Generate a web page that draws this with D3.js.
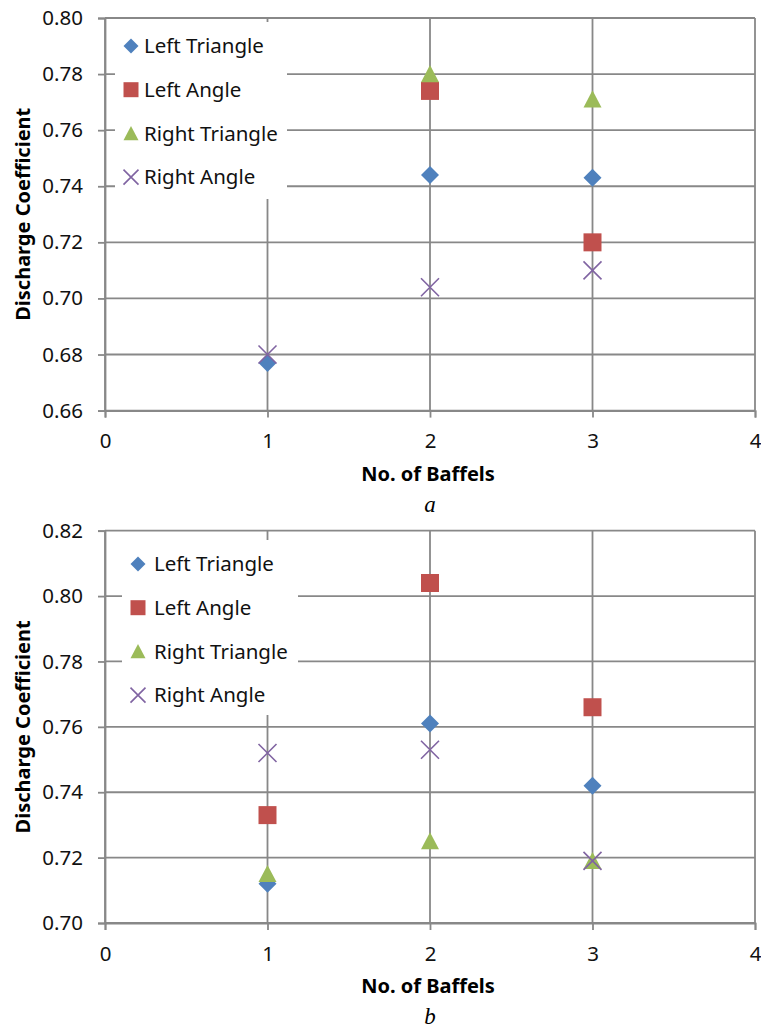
<!DOCTYPE html>
<html lang="en">
<head>
    <meta charset="UTF-8">
    <title>Discharge Coefficient vs No. of Baffels</title>
    <script src="https://d3js.org/d3.v7.min.js"></script>
    <style>
        body { margin: 0; background: #fff; }
        text { font-family: "Noto Sans", "Open Sans", sans-serif; }
    </style>
</head>
<body>
    <svg class="chart"></svg>

    <script>
        // data
        const baffles = [1, 2, 3];
        const seriesNames = ['Left Triangle', 'Left Angle', 'Right Triangle', 'Right Angle'];
        const seriesColors = ['#4F81BD', '#C0504D', '#9BBB59', '#8064A2'];
        const seriesShapes = ['diamond', 'square', 'triangle', 'cross'];

        // chart a
        const aLeftTriangle = [0.677, 0.744, 0.743];
        const aLeftAngle = [null, 0.774, 0.720];
        const aRightTriangle = [null, 0.780, 0.771];
        const aRightAngle = [0.680, 0.704, 0.710];
        const aYTicks = [0.66, 0.68, 0.70, 0.72, 0.74, 0.76, 0.78, 0.80];

        // chart b
        const bLeftTriangle = [0.712, 0.761, 0.742];
        const bLeftAngle = [0.733, 0.804, 0.766];
        const bRightTriangle = [0.715, 0.725, 0.719];
        const bRightAngle = [0.752, 0.753, 0.719];
        const bYTicks = [0.70, 0.72, 0.74, 0.76, 0.78, 0.80, 0.82];

        const xTicks = [0, 1, 2, 3, 4];
        const xTitle = 'No. of Baffels';
        const yTitle = 'Discharge Coefficient';

        const grid = '#888888';

        const svg = d3.select('.chart')
            .attr('width', 761)
            .attr('height', 1032);

        // marker paths (s = full width)
        function markerPath(shape, s) {
            const h = s / 2;
            if (shape === 'diamond') return `M0,${-h}L${h},0L0,${h}L${-h},0Z`;
            if (shape === 'square') return `M${-h},${-h}H${h}V${h}H${-h}Z`;
            if (shape === 'triangle') return `M0,${-h}L${h},${h * 0.9}L${-h},${h * 0.9}Z`;
            return `M${-h},${-h}L${h},${h}M${h},${-h}L${-h},${h}`;
        }

        function drawMarker(g, shape, color, x, y, s) {
            const p = g.append('path')
                .attr('transform', `translate(${x},${y})`)
                .attr('d', markerPath(shape, s));
            if (shape === 'cross') {
                p.attr('fill', 'none').attr('stroke', color).attr('stroke-width', 1.6);
            } else {
                p.attr('fill', color);
            }
        }

        function drawChart(cfg) {
            const g = svg.append('g');

            const x = d3.scaleLinear().domain([0, 4]).range([105, 755]);
            const y = d3.scaleLinear()
                .domain([cfg.yTicks[0], cfg.yTicks[cfg.yTicks.length - 1]])
                .range([cfg.bottom, cfg.top]);

            // horizontal gridlines
            g.selectAll('.hgrid')
                .data(cfg.yTicks)
                .enter()
                .append('line')
                .attr('x1', x(0)).attr('x2', x(4))
                .attr('y1', d => y(d)).attr('y2', d => y(d))
                .attr('stroke', grid).attr('stroke-width', 1.8);

            // vertical gridlines
            g.selectAll('.vgrid')
                .data(xTicks)
                .enter()
                .append('line')
                .attr('x1', d => x(d)).attr('x2', d => x(d))
                .attr('y1', cfg.top).attr('y2', cfg.bottom)
                .attr('stroke', grid).attr('stroke-width', 1.8);

            // y axis
            const yAxis = g.append('g')
                .attr('transform', `translate(${x(0)},0)`)
                .call(d3.axisLeft(y).tickValues(cfg.yTicks).tickSize(7).tickPadding(15)
                    .tickFormat(d3.format('.2f')));
            yAxis.select('.domain').attr('stroke', grid).attr('stroke-width', 1.8);
            yAxis.selectAll('.tick line').attr('stroke', grid).attr('stroke-width', 1.8);
            yAxis.selectAll('.tick text')
                .attr('fill', '#111')
                .style('font-size', '20.5px')
                .style('font-family', '"Noto Sans", sans-serif');

            // x axis
            const xAxis = g.append('g')
                .attr('transform', `translate(0,${cfg.bottom})`)
                .call(d3.axisBottom(x).tickValues(xTicks).tickSize(7).tickPadding(16)
                    .tickFormat(d3.format('d')));
            xAxis.select('.domain').attr('stroke', grid).attr('stroke-width', 1.8);
            xAxis.selectAll('.tick line').attr('stroke', grid).attr('stroke-width', 1.8);
            xAxis.selectAll('.tick text')
                .attr('fill', '#111')
                .style('font-size', '20.5px')
                .style('font-family', '"Noto Sans", sans-serif');

            // axis titles
            g.append('text')
                .attr('x', 428)
                .attr('y', cfg.bottom + 70)
                .attr('text-anchor', 'middle')
                .style('font-size', '20px')
                .style('font-weight', 'bold')
                .text(xTitle);

            g.append('text')
                .attr('transform', `translate(30,${(cfg.top + cfg.bottom) / 2}) rotate(-90)`)
                .attr('text-anchor', 'middle')
                .style('font-size', '20px')
                .style('font-weight', 'bold')
                .text(yTitle);

            // caption letter
            g.append('text')
                .attr('x', 430)
                .attr('y', cfg.bottom + 101)
                .attr('text-anchor', 'middle')
                .style('font-family', '"Liberation Serif", "DejaVu Serif", serif')
                .style('font-style', 'italic')
                .style('font-size', '23px')
                .text(cfg.letter);

            // points
            cfg.series.forEach((vals, si) => {
                vals.forEach((v, i) => {
                    if (v == null) return;
                    drawMarker(g, seriesShapes[si], seriesColors[si], x(baffles[i]), y(v), 18);
                });
            });

            // legend
            const lg = g.append('g');
            lg.append('rect')
                .attr('x', cfg.legend.x).attr('y', cfg.legend.y)
                .attr('width', cfg.legend.w).attr('height', cfg.legend.h)
                .attr('fill', '#fff');
            seriesNames.forEach((name, si) => {
                const ry = cfg.legend.y + 24 + si * 43.7;
                drawMarker(lg, seriesShapes[si], seriesColors[si], cfg.legend.x + cfg.legend.mx, ry, 15);
                lg.append('text')
                    .attr('x', cfg.legend.x + cfg.legend.tx)
                    .attr('y', ry)
                    .attr('dy', '0.35em')
                    .style('font-size', '20.5px')
                    .attr('fill', '#111')
                    .text(name);
            });
        }

        drawChart({
            top: 18, bottom: 410.6,
            yTicks: aYTicks,
            series: [aLeftTriangle, aLeftAngle, aRightTriangle, aRightAngle],
            letter: 'a',
            legend: { x: 115, y: 22, w: 172, h: 177, mx: 16, tx: 29 }
        });

        drawChart({
            top: 530.7, bottom: 923,
            yTicks: bYTicks,
            series: [bLeftTriangle, bLeftAngle, bRightTriangle, bRightAngle],
            letter: 'b',
            legend: { x: 122, y: 540, w: 176, h: 175, mx: 16, tx: 32 }
        });
    </script>
</body>
</html>
